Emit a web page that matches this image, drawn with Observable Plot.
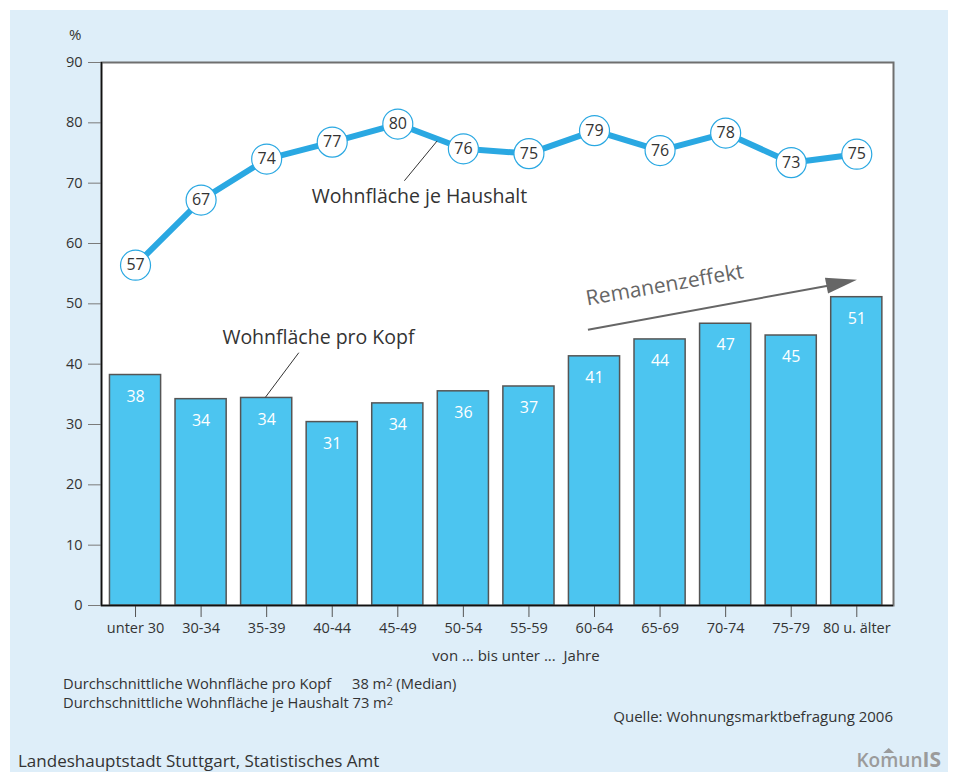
<!DOCTYPE html>
<html>
<head>
<meta charset="utf-8">
<script src="https://cdn.jsdelivr.net/npm/d3@7"></script>
<script src="https://cdn.jsdelivr.net/npm/@observablehq/plot@0.6"></script>
<style>
  body { margin: 0; background: #ffffff; font-family: "Open Sans", sans-serif; color: #333; }
  #frame { position: absolute; left: 10px; top: 10px; width: 938px; height: 762px; background: #deeef9; overflow: hidden; }
  #chart { position: absolute; left: 0; top: 0; }
  .t { position: absolute; white-space: nowrap; }
  sup { font-size: 0.75em; vertical-align: 0.3em; line-height: 0; }
</style>
</head>
<body>
<div id="frame">
  <div id="chart"></div>
  <div class="t" style="left:59px; top:14px; font-size:15px; line-height:20px;">%</div>
  <div class="t" style="left:506px; top:635px; font-size:15px; line-height:20px; transform:translateX(-50%);">von ... bis unter ...&nbsp; Jahre</div>
  <div class="t" style="left:53px; top:664px; font-size:14.7px; line-height:18px;">Durchschnittliche Wohnfläche pro Kopf</div>
  <div class="t" style="left:342px; top:664px; font-size:14.7px; line-height:18px;">38 m<sup>2</sup> (Median)</div>
  <div class="t" style="left:53px; top:683px; font-size:14.7px; line-height:18px;">Durchschnittliche Wohnfläche je Haushalt 73 m<sup>2</sup></div>
  <div class="t" style="right:55px; top:697px; font-size:15px; line-height:18px;">Quelle: Wohnungsmarktbefragung 2006</div>
  <div class="t" style="left:8px; top:740px; font-size:17px; line-height:22px;">Landeshauptstadt Stuttgart, Statistisches Amt</div>
  <div class="t" style="right:7px; top:737px; font-size:19px; line-height:24px; color:#9b9b9b; font-weight:600;">Ko<span style="position:relative;">m<span style="position:absolute; left:3px; top:1px; width:11px; height:5px; background:#9b9b9b; clip-path:polygon(50% 0, 100% 100%, 0 100%);"></span></span>un<span style="font-weight:700; font-size:21px;">IS</span></div>
</div>
<script>
// ---- data ----
const ageGroups = ["unter 30", "30-34", "35-39", "40-44", "45-49", "50-54", "55-59", "60-64", "65-69", "70-74", "75-79", "80 u. älter"];
const proKopf = [38.2, 34.2, 34.4, 30.4, 33.5, 35.5, 36.3, 41.3, 44.1, 46.7, 44.75, 51.1];
const proKopfLabels = ["38", "34", "34", "31", "34", "36", "37", "41", "44", "47", "45", "51"];
const jeHaushalt = [56.4, 67.2, 74.0, 76.8, 79.8, 75.7, 74.9, 78.7, 75.4, 78.3, 73.4, 74.8];
const jeHaushaltLabels = ["57", "67", "74", "77", "80", "76", "75", "79", "76", "78", "73", "75"];
const yTicks = [0, 10, 20, 30, 40, 50, 60, 70, 80, 90];

// annotations (in data coordinates: x = category index, y = value)
const annoTexts = [
  {text: "Wohnfläche je Haushalt", x: 4.33, y: 67.8},
  {text: "Wohnfläche pro Kopf", x: 2.79, y: 44.4}
];
const leaders = [
  {x1: 4.60, y1: 77.0, x2: 4.10, y2: 70.4},
  {x1: 2.49, y1: 41.9, x2: 1.98, y2: 34.5}
];
const remanenz = [{text: "Remanenzeffekt", x: 8.07, y: 53.1}];
const arrowShaft = [{x1: 6.90, y1: 45.7, x2: 10.56, y2: 53.0}];
const arrowHeadPos = [{x: 10.77, y: 53.5}];

const bars = ageGroups.map((g, i) => ({i, g, v: proKopf[i], label: proKopfLabels[i]}));
const line = ageGroups.map((g, i) => ({i, g, v: jeHaushalt[i], label: jeHaushaltLabels[i]}));

const arrowHead = {
  draw(ctx, size) {
    const r = Math.sqrt(size / Math.PI);
    ctx.moveTo(r, 0);
    ctx.lineTo(-r, -r * 0.52);
    ctx.lineTo(-r, r * 0.52);
    ctx.closePath();
  }
};

const halfBar = 0.39;

const chart = Plot.plot({
  width: 938,
  height: 640,
  marginTop: 52,
  marginLeft: 91,
  marginRight: 55,
  marginBottom: 45,
  style: {fontFamily: "Open Sans, sans-serif", fontSize: "14px", color: "#333", background: "transparent", overflow: "visible"},
  x: {type: "linear", domain: [-0.519, 11.56], axis: null},
  y: {domain: [0, 90], axis: null},
  marks: [
    Plot.frame({fill: "white", stroke: "#6f6f6f", strokeWidth: 2}),
    Plot.axisY({ticks: yTicks, tickSize: 13, tickPadding: 6, stroke: "#7a7a7a", fill: "#333", fontSize: 14.5, label: null}),
    Plot.axisX({ticks: ageGroups.map((g, i) => i), tickFormat: i => ageGroups[i], tickSize: 12, tickPadding: 5, stroke: "#555", fill: "#333", fontSize: 14.5, label: null}),
    Plot.rectY(bars, {x1: d => d.i - halfBar, x2: d => d.i + halfBar, y1: 0, y2: "v", fill: "#4cc5f0", stroke: "#555", strokeWidth: 1.5}),
    Plot.text(bars, {x: "i", y: "v", text: "label", dy: 21.5, fill: "white", fontSize: 16}),
    Plot.ruleY([0], {stroke: "#111", strokeWidth: 1.5}),
    Plot.ruleX([-0.519], {stroke: "#111", strokeWidth: 1.5}),
    Plot.line(line, {x: "i", y: "v", stroke: "#2aa8e2", strokeWidth: 6}),
    Plot.dot(line, {x: "i", y: "v", r: 15, fill: "white", stroke: "#2aa8e2", strokeWidth: 1.2}),
    Plot.text(line, {x: "i", y: "v", text: "label", fill: "#333", fontSize: 16}),
    Plot.link(leaders, {x1: "x1", y1: "y1", x2: "x2", y2: "y2", stroke: "#333", strokeWidth: 1}),
    Plot.text(annoTexts, {x: "x", y: "y", text: "text", fill: "#333", fontSize: 19.5}),
    Plot.link(arrowShaft, {x1: "x1", y1: "y1", x2: "x2", y2: "y2", stroke: "#666", strokeWidth: 2}),
    Plot.dot(arrowHeadPos, {x: "x", y: "y", symbol: arrowHead, r: 15.5, fill: "#666", stroke: null, rotate: -11}),
    Plot.text(remanenz, {x: "x", y: "y", text: "text", fill: "#666", fontSize: 21, rotate: -10, letterSpacing: "0.6px"})
  ]
});
document.getElementById("chart").appendChild(chart);
</script>
</body>
</html>
